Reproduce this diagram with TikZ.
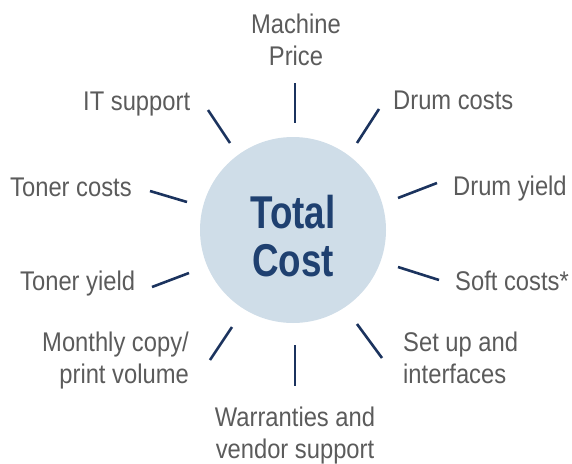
\documentclass[tikz,border=0pt]{standalone}
\usepackage{fontspec}
\setmainfont{Liberation Sans}[FakeStretch=0.88]
\newfontfamily\boldcond{Liberation Sans}[FakeStretch=0.80,UprightFont=* Bold]
\definecolor{txtgray}{HTML}{5B5B5B}
\definecolor{spoke}{HTML}{1B335E}
\definecolor{circfill}{HTML}{CFDDE8}
\definecolor{titleblue}{HTML}{1F4070}
\begin{document}
\begin{tikzpicture}[x=1pt,y=-1pt,
  lbl/.style={inner sep=0pt,text=txtgray,font=\fontsize{27}{32}\selectfont},
  spk/.style={draw=spoke,line width=2.6pt}]
\useasboundingbox (0,0) rectangle (572,463);
\node[fill=circfill,circle,minimum size=186pt,inner sep=0pt] (c) at (293,230) {};
\node[inner sep=0pt,text=titleblue,font=\boldcond\fontsize{46}{48}\selectfont,align=center,anchor=base] (t) at (293,276) {Total\\Cost};
% labels
\node[lbl,anchor=base,align=center] (mp) at (296,65) {Machine\\Price};
\node[lbl,anchor=base west] (it) at (83,110) {IT support};
\node[lbl,anchor=base west] (tc) at (10,196) {Toner costs};
\node[lbl,anchor=base west] (ty) at (20,290) {Toner yield};
\node[lbl,anchor=base east,align=right] (mc) at (189,383) {Monthly copy/\\print volume};
\node[lbl,anchor=base,align=center] (wv) at (295,458) {Warranties and\\vendor support};
\node[lbl,anchor=base west,align=left] (su) at (403,383) {Set up and\\interfaces};
\node[lbl,anchor=base west] (sc) at (455,290) {Soft costs*};
\node[lbl,anchor=base west] (dy) at (453,195) {Drum yield};
\node[lbl,anchor=base west] (dc) at (393,109) {Drum costs};
% spokes
\coordinate (a1) at (295,83); \coordinate (b1) at (295,123);
\coordinate (a2) at (208,110); \coordinate (b2) at (230,143);
\coordinate (a3) at (150,191); \coordinate (b3) at (187,202);
\coordinate (a4) at (152,287); \coordinate (b4) at (189,273);
\coordinate (a5) at (210,360); \coordinate (b5) at (232,327);
\coordinate (a6) at (295,345); \coordinate (b6) at (295,386);
\coordinate (a7) at (357,324); \coordinate (b7) at (382,358);
\coordinate (a8) at (398,267); \coordinate (b8) at (439,280);
\coordinate (a9) at (398,198); \coordinate (b9) at (437,183);
\coordinate (a10) at (357,143); \coordinate (b10) at (379,109);
\foreach \i in {1,...,10} {\draw[spk] (a\i) -- (b\i);}
\end{tikzpicture}
\end{document}
